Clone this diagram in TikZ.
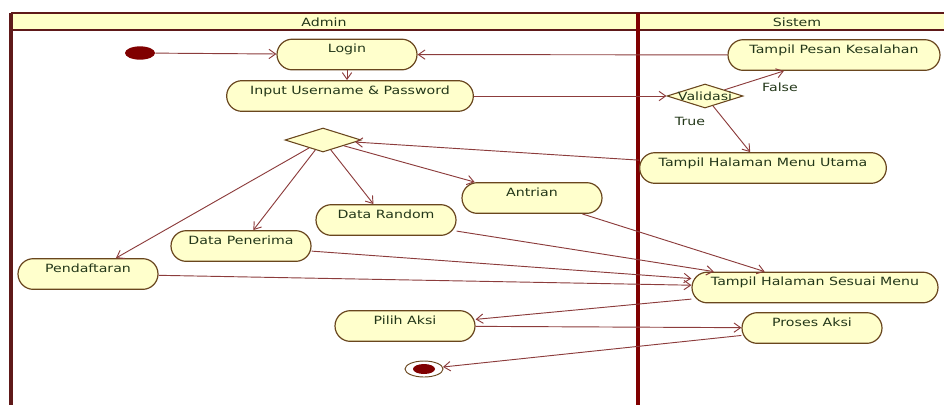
\documentclass[tikz,border=0pt]{standalone}
\usepackage{fontspec}
\setmainfont[FakeStretch=1.25]{DejaVu Sans}
\usetikzlibrary{arrows.meta,shapes.geometric}
\definecolor{lanered}{RGB}{128,0,0}
\definecolor{framered}{RGB}{95,25,25}
\definecolor{headfill}{RGB}{255,255,200}
\definecolor{actfill}{RGB}{255,255,204}
\definecolor{actline}{RGB}{105,70,30}
\definecolor{flowline}{RGB}{140,60,60}
\definecolor{txt}{RGB}{35,55,25}
\tikzset{
  act/.style={draw=actline, fill=actfill, line width=0.9pt, rounded corners=11.5pt,
    minimum width=105pt, minimum height=23pt, inner ysep=2pt,
    text height=7pt, text depth=10pt, text=txt, font=\fontsize{8.5}{10}\selectfont},
  decision/.style={diamond, draw=actline, fill=actfill, line width=0.8pt, inner sep=0pt,
    minimum width=57pt, minimum height=18pt},
  guard/.style={text=txt, font=\fontsize{8.5}{10}\selectfont},
  flow/.style={draw=flowline, line width=0.7pt, -{Straight Barb[length=5pt,width=7pt]}}
}
\begin{document}
\begin{tikzpicture}[x=0.75pt,y=-0.75pt]
\useasboundingbox (0,0) rectangle (944,405);
\clip (0,0) rectangle (944,405);
\fill[headfill] (11,13) rectangle (944,30);
\draw[framered, line width=1.2pt] (11,13) -- (944,13) (11,30) -- (944,30);
\draw[framered, line width=3pt] (11,13) -- (11,405);
\draw[lanered, line width=3pt] (638,13) -- (638,405);
\node[guard] (admin) at (324,22) {Admin};
\node[guard] (sistem) at (797,22) {Sistem};

\node[ellipse, fill=lanered, minimum width=22.5pt, minimum height=10pt, inner sep=0pt] (start) at (140,53) {};
\node[act] (login) at (347,54.5) {Login};
\node[act, minimum width=185pt] (input) at (350,96) {Input Username \& Password};
\node[act, minimum width=159pt] (pesan) at (834,55) {Tampil Pesan Kesalahan};
\node[decision, label={[guard]center:Validasi}] (valid) at (705,96) {};
\node[act, minimum width=185pt] (utama) at (763,168) {Tampil Halaman Menu Utama};
\node[decision] (menu) at (323,140) {};
\node[act] (daftar) at (88,274) {Pendaftaran};
\node[act] (terima) at (241,246) {Data Penerima};
\node[act] (random) at (386,220) {Data Random};
\node[act] (antri) at (532,198) {Antrian};
\node[act, minimum width=184.5pt] (sesuai) at (815,287.5) {Tampil Halaman Sesuai Menu};
\node[act] (pilih) at (405,326) {Pilih Aksi};
\node[act] (proses) at (812,328) {Proses Aksi};
\node[ellipse, draw=actline, fill=white, line width=0.7pt, minimum width=28.5pt, minimum height=12pt, inner sep=0pt] (final) at (424,369) {};
\fill[lanered] (final) ellipse (8.25pt and 3.75pt);

\draw[flow] (start) -- (login);
\draw[flow] (login.south) -- (login.south |- input.north);
\draw[flow] (input) -- (valid);
\draw[flow] (valid) -- (pesan);
\draw[flow] (pesan) -- (login);
\draw[flow] (valid) -- (utama);
\draw[flow] (utama) -- (menu);
\draw[flow] (menu) -- (daftar);
\draw[flow] (menu) -- (terima);
\draw[flow] (menu) -- (random);
\draw[flow] (menu) -- (antri);
\draw[flow] (antri) -- (sesuai);
\draw[flow] (random) -- (sesuai);
\draw[flow] (terima) -- (sesuai);
\draw[flow] (daftar) -- (sesuai);
\draw[flow] (sesuai) -- (pilih);
\draw[flow] (pilih) -- (proses);
\draw[flow] (proses) -- (final);
\node[guard] (false) at (780,87) {False};
\node[guard] (true) at (690,121) {True};
\end{tikzpicture}
\end{document}
